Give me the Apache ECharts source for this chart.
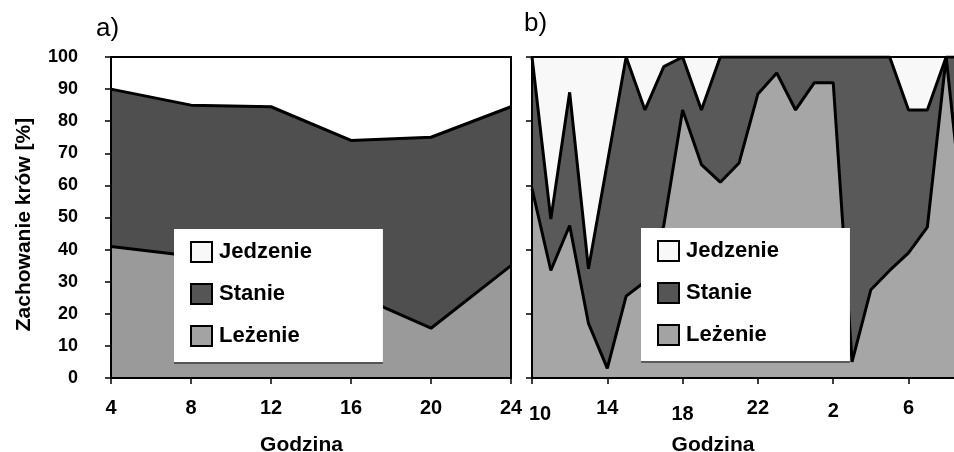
<!DOCTYPE html>
<html><head><meta charset="utf-8">
<script src="https://cdn.jsdelivr.net/npm/echarts@6/dist/echarts.min.js"></script>
<style>html,body{margin:0;padding:0;background:#fff}#c{width:954px;height:452px}</style>
</head><body><div id="c"></div>
<script>
// ---- Panel a) data ----
const hoursA = ['4', '8', '12', '16', '20', '24'];
const lezenieA = [41, 38, 33, 26.5, 15.5, 35];
const stanieA = [49, 47, 51.5, 47.5, 59.5, 49.5];
const jedzenieA = [10, 15, 15.5, 26, 25, 15.5];

// ---- Panel b) data ----
const hoursB = ['10','11','12','13','14','15','16','17','18','19','20','21','22','23','0','1','2','3','4','5','6','7','8','9'];
const lezenieB = [59, 33.5, 47.5, 17, 3, 25.5, 30, 47.5, 83.5, 66.5, 61, 67, 88.5, 95, 83.5, 92, 92, 5, 27.5, 33.5, 39, 47, 100, 45];
const stanieB = [41, 16, 41.5, 17, 64, 74.5, 53.5, 49.5, 16.5, 17, 39, 33, 11.5, 5, 16.5, 8, 8, 95, 72.5, 66.5, 44.5, 36.5, 0, 55];
const jedzenieB = [0, 50.5, 11, 66, 33, 0, 16.5, 3, 0, 16.5, 0, 0, 0, 0, 0, 0, 0, 0, 0, 0, 16.5, 16.5, 0, 0];

const seriesNames = ['Jedzenie', 'Stanie', 'Leżenie'];

const FONT = "'Liberation Sans', Arial, Helvetica, sans-serif";
const chart = echarts.init(document.getElementById('c'), null, {renderer: 'canvas'});

const legendColors = {'Jedzenie': '#f8f8f8', 'Stanie': '#555555', 'Leżenie': '#a3a3a3'};
function makeLegend(left, top) {
  return {
    left: left, top: top, orient: 'vertical', icon: 'rect',
    itemWidth: 21, itemHeight: 20, itemGap: 20,
    padding: [12, 71, 15, 16],
    backgroundColor: '#fff',
    shadowColor: 'rgba(0,0,0,0.45)', shadowOffsetY: 2, shadowOffsetX: 0, shadowBlur: 0,
    itemStyle: {borderColor: '#000', borderWidth: 2},
    textStyle: {fontFamily: FONT, fontWeight: 'bold', fontSize: 22, color: '#000', padding: [0, 0, 0, 2]},
    selectedMode: false, z: 10,
    data: seriesNames.map(n => ({name: n, itemStyle: {color: legendColors[n], borderColor: '#000', borderWidth: 2}}))
  };
}

function mk(name, data, idx, color, z, lw) {
  return {
    type: 'line', name: name, data: data, xAxisIndex: idx, yAxisIndex: idx,
    stack: 'st' + idx, symbol: 'none', showSymbol: false, z: z,
    itemStyle: {color: color},
    areaStyle: {color: color, opacity: 1},
    lineStyle: {color: '#000', width: lw},
    emphasis: {disabled: true}, silent: true
  };
}

const tickStyle = {show: true, inside: false, length: 6, lineStyle: {color: '#000', width: 1.5}};
const axisLine = {show: true, lineStyle: {color: '#000', width: 2}};
const nameStyle = {fontFamily: FONT, fontWeight: 'bold', fontSize: 21, color: '#000'};

const option = {
  animation: false,
  backgroundColor: '#fff',
  title: [
    {text: 'a)', left: 96, top: 16, padding: 0, textStyle: {fontFamily: FONT, fontWeight: 'normal', fontSize: 26, color: '#000'}},
    {text: 'b)', left: 524, top: 11, padding: 0, textStyle: {fontFamily: FONT, fontWeight: 'normal', fontSize: 26, color: '#000'}}
  ],
  legend: [makeLegend(174, 229), makeLegend(641, 228)],
  grid: [
    {left: 111, top: 57, width: 400, height: 321, show: true, borderColor: '#000', borderWidth: 2, backgroundColor: 'transparent', z: 5, containLabel: false, outerBoundsMode: 'none'},
    {left: 532, top: 57, width: 433, height: 321, show: true, borderColor: '#000', borderWidth: 2, backgroundColor: 'transparent', z: 5, containLabel: false, outerBoundsMode: 'none'}
  ],
  xAxis: [
    {
      type: 'category', gridIndex: 0, data: hoursA, boundaryGap: false, z: 6,
      axisLine: axisLine, axisTick: Object.assign({interval: 0}, tickStyle),
      axisLabel: {interval: 0, margin: 20, fontFamily: FONT, fontWeight: 'bold', fontSize: 20, color: '#000'},
      splitLine: {show: false},
      name: 'Godzina', nameLocation: 'middle', nameGap: 57,
      nameTextStyle: Object.assign({padding: [0, 19, 0, 0]}, nameStyle)
    },
    {
      type: 'category', gridIndex: 1, data: hoursB, boundaryGap: false, z: 6,
      axisLine: axisLine, axisTick: Object.assign({interval: 3}, tickStyle),
      axisLabel: {
        interval: 3, margin: 20, fontFamily: FONT, fontWeight: 'bold', fontSize: 20, color: '#000',
        formatter: function (v, i) {
          if (i === 0) return '{f|' + v + '}';
          if (i === 8) return '{d|' + v + '}';
          if (i === 16) return '{m|' + v + '}';
          return v;
        },
        rich: {
          f: {fontFamily: FONT, fontWeight: 'bold', fontSize: 20, color: '#000', padding: [6, 0, 0, 16]},
          d: {fontFamily: FONT, fontWeight: 'bold', fontSize: 20, color: '#000', padding: [6, 0, 0, 0]},
          m: {fontFamily: FONT, fontWeight: 'bold', fontSize: 20, color: '#000', padding: [3, 0, 0, 0]}
        }
      },
      splitLine: {show: false},
      name: 'Godzina', nameLocation: 'middle', nameGap: 57,
      nameTextStyle: Object.assign({padding: [0, 71, 0, 0]}, nameStyle)
    }
  ],
  yAxis: [
    {
      type: 'value', gridIndex: 0, min: 0, max: 100, interval: 10, z: 6,
      axisLine: axisLine, axisTick: tickStyle,
      axisLabel: {margin: 33, fontFamily: FONT, fontWeight: 'bold', fontSize: 18, color: '#000'},
      splitLine: {show: false},
      name: 'Zachowanie krów [%]', nameLocation: 'middle', nameGap: 76,
      nameTextStyle: Object.assign({padding: [0, 14, 0, 0]}, nameStyle)
    },
    {
      type: 'value', gridIndex: 1, min: 0, max: 100, interval: 20, z: 6,
      axisLine: axisLine, axisTick: tickStyle,
      axisLabel: {show: false},
      splitLine: {show: false}
    }
  ],
  series: [
    mk('Leżenie', lezenieA, 0, '#9a9a9a', 3, 3),
    mk('Stanie', stanieA, 0, '#4f4f4f', 2, 3),
    mk('Jedzenie', jedzenieA, 0, '#ffffff', 1, 0),
    mk('Leżenie', lezenieB, 1, '#a6a6a6', 3, 3),
    mk('Stanie', stanieB, 1, '#595959', 2, 3),
    mk('Jedzenie', jedzenieB, 1, '#f8f8f8', 1, 0)
  ]
};
chart.setOption(option);
</script>
</body></html>
